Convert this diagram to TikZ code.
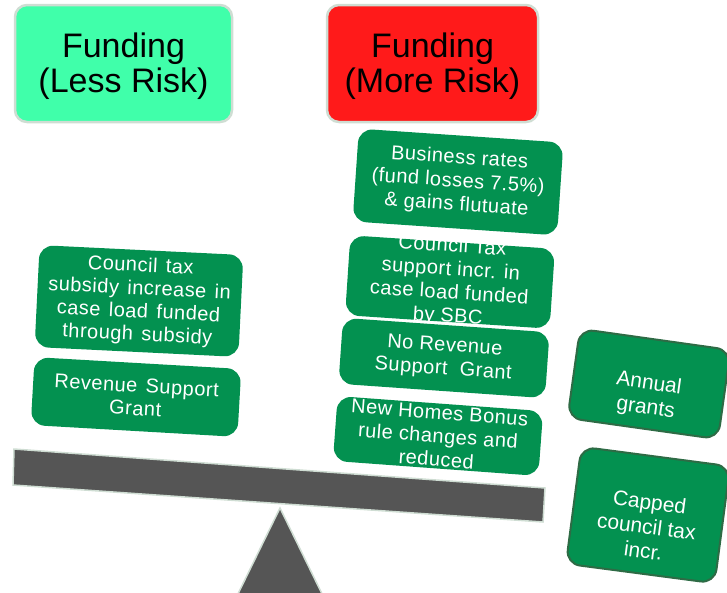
\documentclass[tikz,border=0pt]{standalone}
\usepackage{fontspec}
\setmainfont{Liberation Sans}
\newfontfamily\boxfont[LetterSpace=2.5]{Liberation Sans}
\newcommand\widewords{\spaceskip=0.42em\relax}
\definecolor{mint}{HTML}{40FFAA}
\definecolor{riskred}{HTML}{FF1A1A}
\definecolor{boxgreen}{HTML}{039150}
\definecolor{edgegreen}{HTML}{2E6B45}
\definecolor{beamgray}{HTML}{555555}
\definecolor{rimgray}{HTML}{CFDDD3}
\tikzset{
  head/.style={draw=rimgray, line width=2.5pt, rounded corners=12pt,
    minimum height=117pt, align=center, font=\fontsize{34}{35}\selectfont},
  fund/.style={fill=boxgreen, rounded corners=14pt, text=white, align=center,
    inner sep=2pt, font=\boxfont\fontsize{20}{23.5}\selectfont},
  wide/.style={font=\boxfont\fontsize{20}{23}\selectfont\widewords},
  grant/.style={fund, draw=edgegreen, line width=2pt, font=\fontsize{21}{24.5}\selectfont},
  beam/.style={fill=beamgray, draw=rimgray, line width=1.5pt}
}

\begin{document}
\begin{tikzpicture}[x=1pt, y=-1pt]
  \useasboundingbox (0,0) rectangle (727,592);
  \clip (0,0) rectangle (727,592);

  % the two headings
  \node[head, fill=mint, minimum width=217pt] (lessrisk) at (123.5,63.5)
    {\rule{0pt}{31pt}Funding\\(Less Risk)};
  \node[head, fill=riskred, minimum width=211pt] (morerisk) at (432.5,63.5)
    {\rule{0pt}{31pt}Funding\\(More Risk)};

  % see-saw
  \draw[beam] (280,508)--(325,600)--(235,600)--cycle;
  \draw[beam] (14,449)--(545,488)--(543,522)--(13,485)--cycle;

  % left pan
  \node[fund, wide, minimum width=204pt, minimum height=102pt, rotate=-2.8] (ctsubsidy) at (139,301)
    {Council tax\\subsidy increase in\\case load funded\\through subsidy};
  \node[fund, wide, minimum width=207pt, minimum height=68pt, rotate=-3.3] (rsg) at (136,397)
    {Revenue Support\\Grant};

  % right pan
  \node[fund, minimum width=205pt, minimum height=93pt, rotate=-3.9] (busrates) at (458,182)
    {Business rates\\(fund losses 7.5\%)\\\& gains flutuate};
  \node[fund, minimum width=205pt, minimum height=80pt, rotate=-3.8] (ctsupport) at (450,282) {};
  \node[fund, fill=none, rotate=-3.8] (ctsupporttext) at (ctsupport.center)
    {Council Tax\\support incr. in\\case load funded\\by SBC};
  \node[fund, minimum width=207pt, minimum height=66pt, rotate=-4] (norsg) at (444,358)
    {No Revenue\\Support\ \ Grant};
  \node[fund, minimum width=206pt, minimum height=64pt, rotate=-4.2] (nhb) at (438,436)
    {New Homes Bonus\\rule changes and\\reduced};

  % off the scale (text sits low in these)
  \node[grant, minimum width=152pt, minimum height=90pt, rotate=-8] (annual) at (649,384)
    {\rule{0pt}{40pt}Annual\\grants};
  \node[grant, minimum width=150pt, minimum height=118pt, rotate=-7.5] (capped) at (648,515)
    {\rule{0pt}{38pt}Capped\\council tax\\incr.};
\end{tikzpicture}
\end{document}
